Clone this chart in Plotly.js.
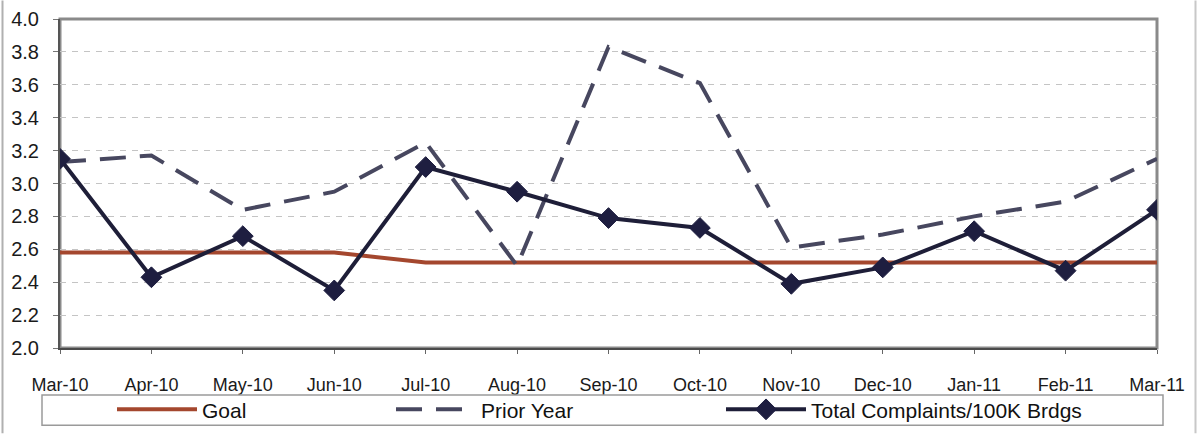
<!DOCTYPE html>
<html>
<head>
<meta charset="utf-8">
<script src="https://cdn.plot.ly/plotly-3.0.1.min.js"></script>
<style>html,body{margin:0;padding:0;background:#fff;}#chart{width:1198px;height:442px;}</style>
</head>
<body>
<div id="chart"></div>
<script>
const months = ["Mar-10","Apr-10","May-10","Jun-10","Jul-10","Aug-10","Sep-10","Oct-10","Nov-10","Dec-10","Jan-11","Feb-11","Mar-11"];
const goal = [2.58,2.58,2.58,2.58,2.52,2.52,2.52,2.52,2.52,2.52,2.52,2.52,2.52];
const priorYear = [3.13,3.17,2.84,2.95,3.25,2.50,3.83,3.61,2.61,2.69,2.80,2.89,3.15];
const totalComplaints = [3.15,2.43,2.68,2.35,3.10,2.95,2.79,2.73,2.39,2.49,2.71,2.47,2.84];
const yTicks = [2.0,2.2,2.4,2.6,2.8,3.0,3.2,3.4,3.6,3.8,4.0];

const FONT = "Liberation Sans, Arial, sans-serif";
const L = 60, R = 1157, T = 19, B = 355, W = 1198, H = 442;
const px = x => (x - L) / (R - L);
const py = y => (B - y) / (B - T);

const traces = [
  {x: months, y: goal, name: "Goal", type: "scatter", mode: "lines",
   line: {color: "#a4472e", width: 4}, legend: "legend"},
  {x: months, y: priorYear, name: "Prior Year", type: "scatter", mode: "lines",
   line: {color: "#47475f", width: 4, dash: "26px,14px"}, legend: "legend2"},
  {x: months, y: totalComplaints, name: "Total Complaints/100K Brdgs", type: "scatter", mode: "lines+markers",
   line: {color: "#1e1e38", width: 4}, marker: {symbol: "diamond", size: 16, color: "#1e1e40", line: {color: "#1e1e40", width: 1}}, legend: "legend3"}
];

const legBase = {orientation: "h", bgcolor: "rgba(0,0,0,0)", borderwidth: 0, yanchor: "middle", y: py(418), xanchor: "left",
  font: {family: FONT, size: 21, color: "#111"}, itemwidth: 80};

const layout = {
  width: W, height: H,
  margin: {l: L, r: W - R, t: T, b: H - B, pad: 0},
  paper_bgcolor: "#fff", plot_bgcolor: "#fff",
  showlegend: true,
  legend: Object.assign({}, legBase, {x: px(112)}),
  legend2: Object.assign({}, legBase, {x: px(391)}),
  legend3: Object.assign({}, legBase, {x: px(721)}),
  xaxis: {type: "category", range: [0, 12], showgrid: false, zeroline: false,
    showline: true, linecolor: "#4a4a4a", linewidth: 2,
    ticks: "outside", ticklen: 4, tickcolor: "#666", tickwidth: 1,
    tickfont: {family: FONT, size: 18, color: "#1a1a1a"}, ticklabelstandoff: 15},
  yaxis: {range: [2, 4], tickvals: yTicks, ticktext: yTicks.map(v => v.toFixed(1)),
    showgrid: true, gridcolor: "#c4c4c4", gridwidth: 1, griddash: "6px,6px", zeroline: false,
    showline: true, linecolor: "#555", linewidth: 2,
    ticks: "outside", ticklen: 5, tickcolor: "#777", tickwidth: 1,
    tickfont: {family: FONT, size: 20, color: "#1a1a1a"}, ticklabelstandoff: 10},
  shapes: [
    {type: "rect", xref: "paper", yref: "paper", x0: 0, x1: 1, y0: 0, y1: 1, line: {color: "#8a8a8a", width: 3}, layer: "below"},
    {type: "rect", xref: "paper", yref: "paper", x0: px(42), x1: px(1163), y0: py(434), y1: py(403), line: {color: "#9a9a9a", width: 1.5}},
    {type: "line", xref: "paper", yref: "paper", x0: px(2.5), x1: px(2.5), y0: py(0), y1: py(442), line: {color: "#b0b0b0", width: 2}},
    {type: "line", xref: "paper", yref: "paper", x0: px(1195.5), x1: px(1195.5), y0: py(0), y1: py(442), line: {color: "#c8c8c8", width: 2}}
  ]
};

Plotly.newPlot("chart", traces, layout, {displayModeBar: false, staticPlot: true});
</script>
</body>
</html>
